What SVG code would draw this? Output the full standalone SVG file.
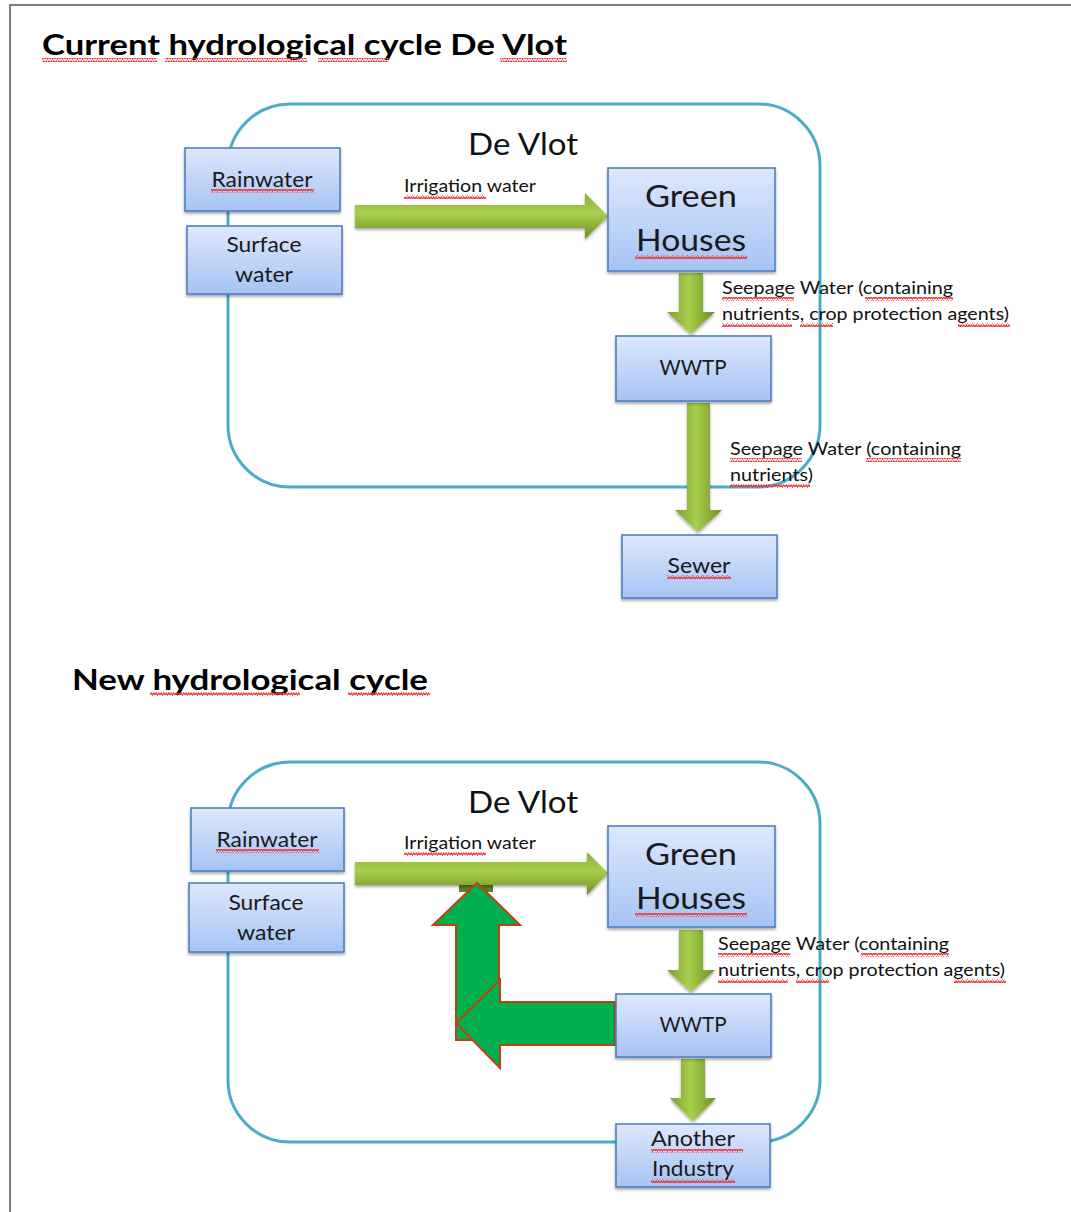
<svg xmlns="http://www.w3.org/2000/svg" width="1071" height="1212" viewBox="0 0 1071 1212">
<style>
.title{font-family:Lato,"Liberation Sans",sans-serif;font-weight:bold;font-size:28px;fill:#000}
.region{font-family:Lato,"Liberation Sans",sans-serif;font-size:31px;fill:#111}
.box{fill:url(#boxg);stroke:#4f81bd;stroke-width:1.6;filter:url(#sh)}
.bt{font-family:Lato,"Liberation Sans",sans-serif;font-size:21px;fill:#1a1a1a;text-anchor:middle}
.bt2{font-family:Lato,"Liberation Sans",sans-serif;font-size:30px;fill:#1a1a1a;text-anchor:middle}
.lbl{font-family:Lato,"Liberation Sans",sans-serif;font-size:16.5px;fill:#111}
.ring{fill:none;stroke:#4bacc6;stroke-width:3}
.harr{fill:url(#hg);filter:url(#sh)}
.varr{fill:url(#vg);filter:url(#sh)}
.garr{fill:#00b050;stroke:#c0400f;stroke-width:2}
.wavy{fill:url(#wv)}
</style>
<defs>
<linearGradient id="boxg" x1="0" y1="0" x2="0" y2="1"><stop offset="0" stop-color="#dde8fc"/><stop offset="1" stop-color="#a6c3f4"/></linearGradient>
<linearGradient id="hg" x1="0" y1="0" x2="0" y2="1"><stop offset="0" stop-color="#8cae3a"/><stop offset="0.45" stop-color="#a8cf4c"/><stop offset="1" stop-color="#6e8e26"/></linearGradient>
<linearGradient id="vg" x1="0" y1="0" x2="1" y2="0"><stop offset="0" stop-color="#7e9f30"/><stop offset="0.45" stop-color="#a8cf4c"/><stop offset="1" stop-color="#6e8e26"/></linearGradient>
<filter id="sh" x="-10%" y="-10%" width="130%" height="140%"><feDropShadow dx="0" dy="2" stdDeviation="1.6" flood-color="#000" flood-opacity="0.35"/></filter>
<pattern id="wv" width="5" height="4" patternUnits="userSpaceOnUse"><path d="M0,3 L1.25,1 L2.5,3 L3.75,1 L5,3" fill="none" stroke="#e8383c" stroke-width="1.2"/></pattern>
</defs>
<rect width="1071" height="1212" fill="#fff"/>
<path d="M10,1212 V5 H1071" fill="none" stroke="#555" stroke-width="1.5"/>

<g id="title1"><text class="title" x="42" y="55" textLength="525" lengthAdjust="spacingAndGlyphs">Current hydrological cycle De Vlot</text></g>
<g id="title2"><text class="title" x="72" y="690" textLength="356" lengthAdjust="spacingAndGlyphs">New hydrological cycle</text></g>

<g id="region1"><rect class="ring" x="228" y="104" width="592" height="383" rx="62"/><text class="region" x="523" y="155" text-anchor="middle" textLength="110" lengthAdjust="spacingAndGlyphs">De Vlot</text></g>
<g id="region2"><rect class="ring" x="228" y="762" width="592" height="380" rx="62"/><text class="region" x="523" y="813" text-anchor="middle" textLength="110" lengthAdjust="spacingAndGlyphs">De Vlot</text></g>

<g id="connectors">
<polygon class="harr" points="355,205 585,205 585,193 608,216 585,239 585,228 355,228"/>
<polygon class="varr" points="679,273 703,273 703,312 715,312 691,334 667,312 679,312"/>
<polygon class="varr" points="687,403 710,403 710,510 722,510 698,532 675,510 687,510"/>
<rect x="459" y="884" width="34" height="8" fill="#5e7f24"/>
<polygon class="harr" points="355,862 587,862 587,852 608,873 587,895 587,885 355,885"/>
<polygon class="varr" points="679,930 703,930 703,970 715,970 691,992 667,970 679,970"/>
<polygon class="varr" points="681,1059 705,1059 705,1098 716,1098 693,1121 670,1098 681,1098"/>
<polygon class="garr" points="456,1040 456,925 433,925 477,883 520,925 499,925 499,1040"/>
<polygon class="garr" points="615,1002 500,1002 500,980 456,1023 500,1068 500,1045 615,1045"/>
<text class="lbl" x="404" y="192" textLength="132" lengthAdjust="spacingAndGlyphs">Irrigation water</text>
<text class="lbl" x="722" y="294" textLength="231" lengthAdjust="spacingAndGlyphs">Seepage Water (containing</text>
<text class="lbl" x="722" y="320" textLength="287" lengthAdjust="spacingAndGlyphs">nutrients, crop protection agents)</text>
<text class="lbl" x="730" y="455" textLength="231" lengthAdjust="spacingAndGlyphs">Seepage Water (containing</text>
<text class="lbl" x="730" y="481" textLength="83" lengthAdjust="spacingAndGlyphs">nutrients)</text>
<text class="lbl" x="404" y="849" textLength="132" lengthAdjust="spacingAndGlyphs">Irrigation water</text>
<text class="lbl" x="718" y="950" textLength="231" lengthAdjust="spacingAndGlyphs">Seepage Water (containing</text>
<text class="lbl" x="718" y="976" textLength="287" lengthAdjust="spacingAndGlyphs">nutrients, crop protection agents)</text>
</g>

<g id="rain1"><rect class="box" x="185" y="148" width="155" height="63"/><text class="bt" x="262" y="187" textLength="101" lengthAdjust="spacingAndGlyphs">Rainwater</text></g>
<g id="surf1"><rect class="box" x="187" y="226" width="155" height="68"/><text class="bt" x="264" y="252" textLength="75" lengthAdjust="spacingAndGlyphs">Surface</text><text class="bt" x="264" y="282" textLength="58" lengthAdjust="spacingAndGlyphs">water</text></g>
<g id="gh1"><rect class="box" x="608" y="168" width="167" height="103"/><text class="bt2" x="691" y="207" textLength="92" lengthAdjust="spacingAndGlyphs">Green</text><text class="bt2" x="691" y="251" textLength="110" lengthAdjust="spacingAndGlyphs">Houses</text></g>
<g id="wwtp1"><rect class="box" x="616" y="336" width="155" height="65"/><text class="bt" x="693" y="375" textLength="67" lengthAdjust="spacingAndGlyphs">WWTP</text></g>
<g id="sewer"><rect class="box" x="622" y="535" width="155" height="63"/><text class="bt" x="699" y="573" textLength="63" lengthAdjust="spacingAndGlyphs">Sewer</text></g>

<g id="rain2"><rect class="box" x="191" y="808" width="153" height="63"/><text class="bt" x="267" y="847" textLength="101" lengthAdjust="spacingAndGlyphs">Rainwater</text></g>
<g id="surf2"><rect class="box" x="189" y="883" width="155" height="69"/><text class="bt" x="266" y="910" textLength="75" lengthAdjust="spacingAndGlyphs">Surface</text><text class="bt" x="266" y="940" textLength="58" lengthAdjust="spacingAndGlyphs">water</text></g>
<g id="gh2"><rect class="box" x="608" y="826" width="167" height="101"/><text class="bt2" x="691" y="865" textLength="92" lengthAdjust="spacingAndGlyphs">Green</text><text class="bt2" x="691" y="909" textLength="110" lengthAdjust="spacingAndGlyphs">Houses</text></g>
<g id="wwtp2"><rect class="box" x="616" y="994" width="155" height="63"/><text class="bt" x="693" y="1032" textLength="67" lengthAdjust="spacingAndGlyphs">WWTP</text></g>
<g id="industry"><rect class="box" x="616" y="1124" width="154" height="63"/><text class="bt" x="693" y="1146" textLength="84" lengthAdjust="spacingAndGlyphs">Another</text><text class="bt" x="693" y="1176" textLength="82" lengthAdjust="spacingAndGlyphs">Industry</text></g>

<g id="spellmarks">
<rect class="wavy" x="42" y="58" width="115" height="4"/><rect class="wavy" x="165" y="58" width="142" height="4"/><rect class="wavy" x="318" y="58" width="70" height="4"/><rect class="wavy" x="500" y="58" width="67" height="4"/>
<rect class="wavy" x="150" y="692" width="150" height="4"/><rect class="wavy" x="348" y="692" width="82" height="4"/>
<rect class="wavy" x="211" y="189" width="103" height="4"/><rect class="wavy" x="404" y="195" width="82" height="4"/><rect class="wavy" x="635" y="255" width="112" height="4"/>
<rect class="wavy" x="722" y="297" width="72" height="4"/><rect class="wavy" x="865" y="297" width="88" height="4"/><rect class="wavy" x="722" y="323" width="70" height="4"/><rect class="wavy" x="800" y="323" width="33" height="4"/><rect class="wavy" x="958" y="323" width="52" height="4"/>
<rect class="wavy" x="730" y="458" width="72" height="4"/><rect class="wavy" x="866" y="458" width="95" height="4"/><rect class="wavy" x="730" y="484" width="80" height="4"/>
<rect class="wavy" x="667" y="575" width="64" height="4"/>
<rect class="wavy" x="216" y="849" width="103" height="4"/><rect class="wavy" x="404" y="852" width="82" height="4"/><rect class="wavy" x="635" y="913" width="112" height="4"/>
<rect class="wavy" x="718" y="953" width="72" height="4"/><rect class="wavy" x="861" y="953" width="88" height="4"/><rect class="wavy" x="718" y="979" width="70" height="4"/><rect class="wavy" x="796" y="979" width="33" height="4"/><rect class="wavy" x="954" y="979" width="52" height="4"/>
<rect class="wavy" x="651" y="1149" width="92" height="4"/><rect class="wavy" x="651" y="1179" width="84" height="4"/>
</g>
</svg>
